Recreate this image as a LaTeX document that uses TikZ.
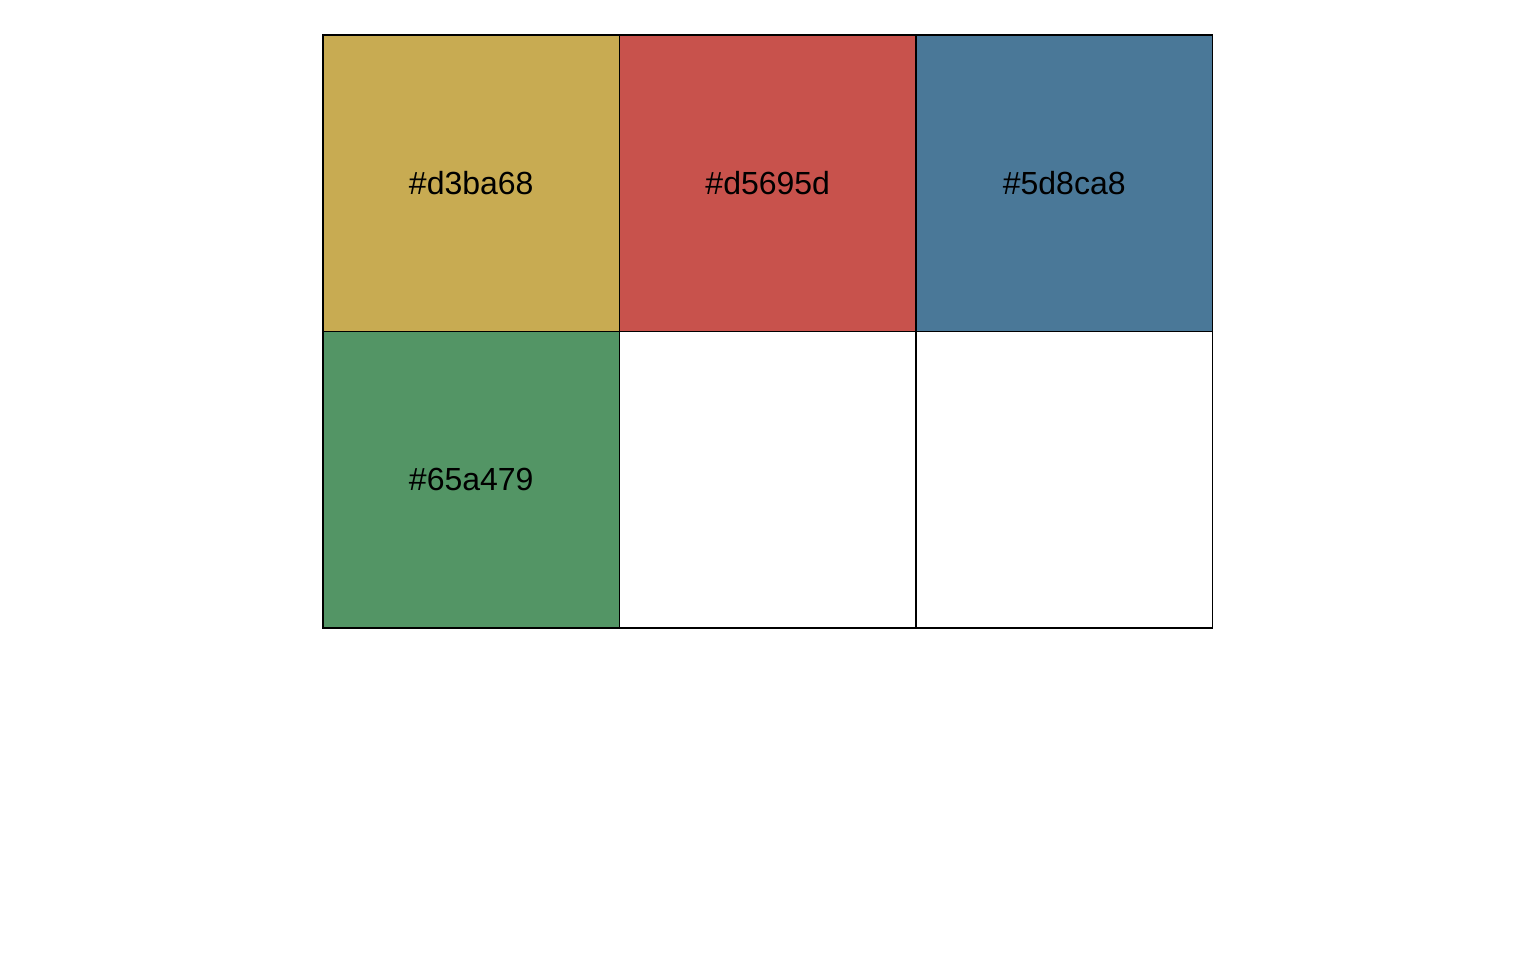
\documentclass[tikz,border=0pt]{standalone}
\usepackage{fontspec}
\setmainfont{Liberation Sans}
\definecolor{cgold}{HTML}{C8AB52}
\definecolor{cred}{HTML}{C8524C}
\definecolor{cblue}{HTML}{4A7898}
\definecolor{cgreen}{HTML}{539565}
\begin{document}
\begin{tikzpicture}[x=0.5pt,y=-0.5pt,
  cell/.style={minimum width=148.25pt,minimum height=148.25pt,inner sep=0pt,outer sep=0pt,anchor=north west,font=\fontsize{16}{19}\selectfont},
  border/.style={draw=black,line width=0.9pt}]
\useasboundingbox[fill=white] (0,0) rectangle (1536,960);
\node[cell,fill=cgold] (c11) at (323,35) {\raisebox{-1pt}{\#d3ba68}};
\node[cell,fill=cred] (c12) at (619.5,35) {\raisebox{-1pt}{\#d5695d}};
\node[cell,fill=cblue] (c13) at (916,35) {\raisebox{-1pt}{\#5d8ca8}};
\node[cell,fill=cgreen] (c21) at (323,331.5) {\raisebox{-1pt}{\#65a479}};
\node[cell,fill=white] (c22) at (619.5,331.5) {};
\node[cell,fill=white] (c23) at (916,331.5) {};
\foreach \c in {c11,c12,c13,c21,c22,c23}
  \draw[border] (\c.north west) rectangle (\c.south east);
\end{tikzpicture}
\end{document}
